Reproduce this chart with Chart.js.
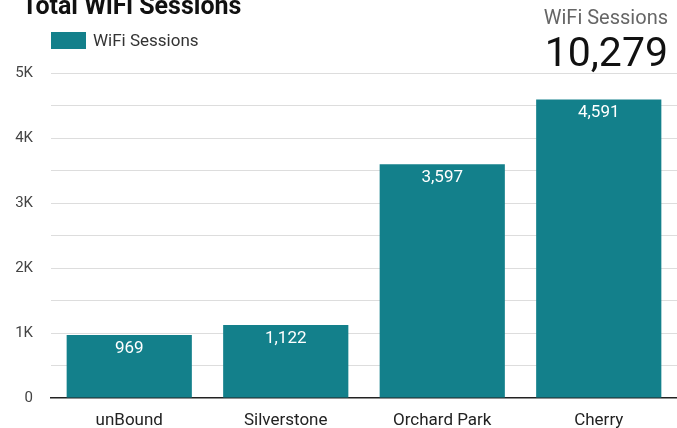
<!DOCTYPE html>
<html>
<head>
<meta charset="utf-8">
<script src="https://cdn.jsdelivr.net/npm/chart.js@4/dist/chart.umd.min.js"></script>
<style>
  html, body { margin: 0; padding: 0; background: #fff; }
  body { width: 677px; height: 428px; position: relative; overflow: hidden; font-family: Roboto, sans-serif; }
  #wrap { position: absolute; left: 0; top: 0; width: 677px; height: 428px; }
  .title { position: absolute; left: 22px; top: -9px; font-size: 25px; line-height: 30px; font-weight: bold; color: #111; white-space: nowrap; }
  .legend { position: absolute; left: 51px; top: 32px; height: 17px; white-space: nowrap; }
  .legend .box { position: absolute; left: 0; top: 0; width: 35px; height: 17px; background: #13808b; }
  .legend .lbl { position: absolute; left: 42px; top: -2px; font-size: 17px; color: #333; line-height: 21px; }
  .score { position: absolute; right: 9px; top: 4px; text-align: right; white-space: nowrap; }
  .score .name { font-size: 20px; color: #666; line-height: 26px; }
  .score .val { font-size: 41px; color: #111; line-height: 44px; margin-top: 0px; }
</style>
</head>
<body>
<div id="wrap"><canvas id="myChart1" width="677" height="428"></canvas></div>
<div class="title">Total WiFi Sessions</div>
<div class="legend"><div class="box"></div><div class="lbl">WiFi Sessions</div></div>
<div class="score"><div class="name">WiFi Sessions</div><div class="val" id="total"></div></div>
<script>
const categories = ['unBound', 'Silverstone', 'Orchard Park', 'Cherry'];
const sessions = [969, 1122, 3597, 4591];
const totalSessions = 10279;
const yTicks = [0, 1000, 2000, 3000, 4000, 5000];
const yTickLabels = ['0', '1K', '2K', '3K', '4K', '5K'];

document.getElementById('total').textContent = totalSessions.toLocaleString('en-US');

const barLabels = {
    id: 'barLabels',
    afterDatasetsDraw(chart) {
        const c = chart.ctx;
        c.save();
        c.font = '17px Roboto';
        c.fillStyle = '#ffffff';
        c.textAlign = 'center';
        c.textBaseline = 'top';
        chart.getDatasetMeta(0).data.forEach(function (bar, i) {
            c.fillText(sessions[i].toLocaleString('en-US'), bar.x, bar.y + 5);
        });
        c.restore();
    }
};

function createChart()
{
    const ctx = document.getElementById('myChart1');

    window.myChart = new Chart(ctx, {
        type: 'bar',
        data: {
            labels: categories,
            datasets: [{
                label: 'WiFi Sessions',
                backgroundColor: '#13808b',
                borderWidth: 0,
                barPercentage: 0.8,
                categoryPercentage: 1,
                data: sessions,
            }]
        },
        options: {
            responsive: false,
            animation: false,
            layout: { padding: { top: 73, right: 0, bottom: 0, left: 0 } },
            plugins: {
                legend: { display: false },
                tooltip: { enabled: false }
            },
            scales: {
                x: {
                    grid: { display: false, drawTicks: false },
                    border: { display: true, color: '#222', width: 1.5 },
                    ticks: { color: '#222', font: { family: 'Roboto', size: 17 }, padding: 13 },
                    afterFit(scale) { scale.height = 30; }
                },
                y: {
                    min: 0,
                    max: 5000,
                    border: { display: false },
                    grid: {
                        color: function (c) { return c.tick && c.tick.value === 0 ? 'rgba(0,0,0,0)' : '#dddddd'; },
                        drawTicks: false
                    },
                    ticks: {
                        stepSize: 500,
                        color: '#444',
                        padding: 18,
                        font: { family: 'Roboto', size: 15 },
                        callback: function (v) {
                            const i = yTicks.indexOf(v);
                            return i >= 0 ? yTickLabels[i] : '';
                        }
                    },
                    afterFit(scale) { scale.width = 51; }
                }
            }
        },
        plugins: [barLabels]
    });
}

createChart();
</script>
</body>
</html>
